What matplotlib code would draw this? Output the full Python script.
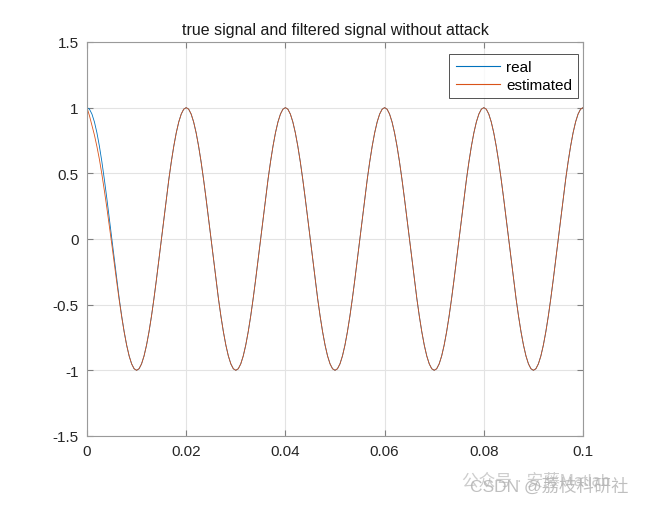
import numpy as np
import matplotlib.pyplot as plt

plt.rcParams['font.family'] = ['Liberation Sans', 'Noto Sans CJK SC', 'DejaVu Sans']

# sample step of the signal (s) and one period of the true signal (50 Hz)
dt = 0.0005
one_period = [1.000, 0.988, 0.951, 0.891, 0.809, 0.707, 0.588, 0.454, 0.309, 0.156,
              0.000, -0.156, -0.309, -0.454, -0.588, -0.707, -0.809, -0.891, -0.951, -0.988,
              -1.000, -0.988, -0.951, -0.891, -0.809, -0.707, -0.588, -0.454, -0.309, -0.156,
              0.000, 0.156, 0.309, 0.454, 0.588, 0.707, 0.809, 0.891, 0.951, 0.988]
n_periods = 5

# filter output during the start-up transient, after that it follows the true signal
estimated_start = [1.000, 0.938, 0.866, 0.791, 0.704, 0.607, 0.493, 0.369, 0.239, 0.101,
                   -0.040, -0.186, -0.329, -0.466, -0.594, -0.709]

real = one_period * n_periods + [one_period[0]]
estimated = estimated_start + real[len(estimated_start):]
t = np.arange(len(real)) * dt

fig = plt.figure(figsize=(6.57, 5.06), dpi=100)
ax = fig.add_axes([0.1324, 0.1364, 0.755, 0.7787])

ax.plot(t, real, color='#0072BD', lw=0.6, label='real')
ax.plot(t, estimated, color='#D95319', lw=0.6, label='estimated')

ax.set_xlim(0, 0.1)
ax.set_ylim(-1.5, 1.5)
ax.set_xticks([0, 0.02, 0.04, 0.06, 0.08, 0.1])
ax.set_xticklabels(['0', '0.02', '0.04', '0.06', '0.08', '0.1'])
ax.set_yticks([-1.5, -1, -0.5, 0, 0.5, 1, 1.5])
ax.set_yticklabels(['-1.5', '-1', '-0.5', '0', '0.5', '1', '1.5'])
ax.grid(True, color='#e3e3e3', lw=0.8)
ax.set_axisbelow(True)
ax.tick_params(direction='in', length=4, color='#808080', labelsize=11,
               labelcolor='#262626', top=True, right=True, pad=6)
for sp in ax.spines.values():
    sp.set_color('#9a9a9a')
    sp.set_linewidth(0.8)

ax.set_title('true signal and filtered signal without attack', fontsize=11.5,
             color='#1a1a1a', pad=6)

leg = ax.legend(loc='upper right', bbox_to_anchor=(0.99, 0.9695), fontsize=11,
                frameon=True, fancybox=False, edgecolor='#262626',
                handlelength=2.9, borderaxespad=0, handletextpad=0.4,
                labelspacing=0.25, borderpad=0.4)
leg.get_frame().set_linewidth(0.7)
for line in leg.get_lines():
    line.set_linewidth(0.8)

# faint watermark
fig.text(0.703, 0.040, '公众号 · 安藤Matlab', fontsize=12, color='#c8c8c8', alpha=0.9)
fig.text(0.715, 0.028, 'CSDN @荔枝科研社', fontsize=12.5, color='#b0b0b0', alpha=0.8)

fig.savefig('out.png', dpi=100)
